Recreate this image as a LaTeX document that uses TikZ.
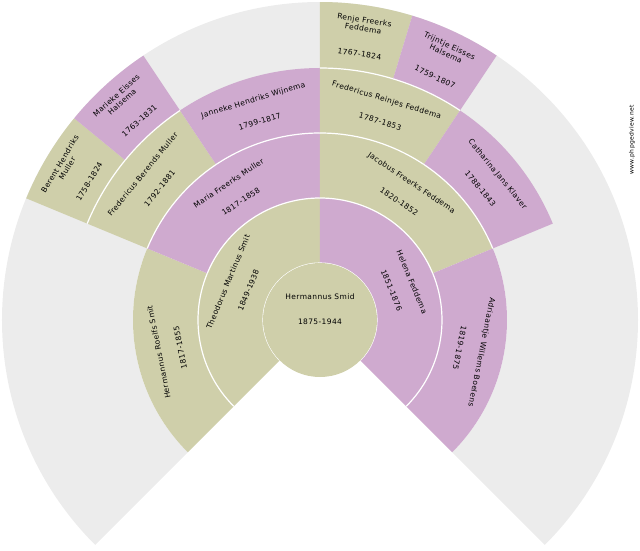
\documentclass[tikz,border=0pt]{standalone}
\usepackage{fontspec}
\setmainfont{DejaVu Sans}[LetterSpace=5]
\definecolor{olive}{RGB}{207,207,170}
\definecolor{mauve}{RGB}{207,170,207}
\definecolor{greyfan}{RGB}{236,236,236}

% one fan segment: r1, r2, a1, a2, colour, name, dates, id
\newcommand\fanseg[8]{%
  \fill[#5] (#3:#1pt) arc[start angle=#3, end angle=#4, radius=#1pt]
    -- (#4:#2pt) arc[start angle=#4, end angle=#3, radius=#2pt] -- cycle;
  \draw[white, line width=1.2pt] (#3:#1pt) arc[start angle=#3, end angle=#4, radius=#1pt];
  \pgfmathsetmacro\sega{(#3+#4)/2}
  \pgfmathsetmacro\segr{(#1+#2)/2}
  \node[fantext, rotate=\sega-90] (#8) at (\sega:\segr pt+\nameoff) {#6};
  \node[fantext, rotate=\sega-90] (#8d) at (\sega:\segr pt-\dateoff) {#7};
}
\newcommand\nameoff{10pt}
\newcommand\dateoff{12pt}

\begin{document}
\begin{tikzpicture}[
    fantext/.style={
        font=\fontsize{7.5}{8.5}\selectfont,
        align=center,
        inner sep=0pt
    }
]
\useasboundingbox (-320pt,-230pt) rectangle (320pt,320pt);

% Grey background for missing ancestors
\fill[greyfan] (-45:187pt) arc[start angle=-45, end angle=225, radius=187pt]
  -- (225:318pt) arc[start angle=225, end angle=-45, radius=318pt] -- cycle;

% ========== GENERATION 2 ==========
\fanseg{57}{122}{90}{225}{olive}{Theodorus Martinus Smit}{1849-1938}{theodorus}
\fanseg{57}{122}{-45}{90}{mauve}{Helena Feddema}{1851-1876}{helena}

% ========== GENERATION 3 ==========
\fanseg{122}{187}{157.5}{225}{olive}{Hermannus Roelfs Smit}{1817-1855}{hermannus}
\fanseg{122}{187}{90}{157.5}{mauve}{Maria Freerks Muller}{1817-1858}{maria}
\fanseg{122}{187}{22.5}{90}{olive}{Jacobus Freerks Feddema}{1820-1852}{jacobus}
\fanseg{122}{187}{-45}{22.5}{mauve}{Adriaantje Willems Boelens}{1819-1875}{adriaantje}

% ========== GENERATION 4 ==========
\fanseg{187}{252}{123.75}{157.5}{olive}{Fredericus Berends Muller}{1792-1881}{fredberends}
\fanseg{187}{252}{90}{123.75}{mauve}{Janneke Hendriks Wijnema}{1799-1817}{janneke}
\fanseg{187}{252}{56.25}{90}{olive}{Fredericus Reinjes Feddema}{1787-1853}{fredreinjes}
\fanseg{187}{252}{22.5}{56.25}{mauve}{Catharina Jans Klaver}{1788-1843}{catharina}

% ========== GENERATION 5 ==========
\renewcommand\nameoff{14pt}
\renewcommand\dateoff{16pt}
\fanseg{252}{318}{140.625}{157.5}{olive}{Berent Hendriks\\Muller}{1758-1824}{berent}
\fanseg{252}{318}{123.75}{140.625}{mauve}{Marieke Eisses\\Halsema}{1763-1831}{marieke}
\fanseg{252}{318}{73.125}{90}{olive}{Renje Freerks\\Feddema}{1767-1824}{renje}
\fanseg{252}{318}{56.25}{73.125}{mauve}{Trijntje Eisses\\Halsema}{1759-1807}{trijntje}

% ========== ROOT ==========
\fill[olive] (0,0) circle[radius=57pt];
\node[fantext] (root) at (0,23pt) {Hermannus Smid};
\node[fantext] (rootd) at (0,-2pt) {1875-1944};

% Watermark
\node[font=\fontsize{6}{7}\selectfont, rotate=90, inner sep=0pt] (mark) at (312pt,180pt) {www.phpgedview.net};
\end{tikzpicture}
\end{document}
